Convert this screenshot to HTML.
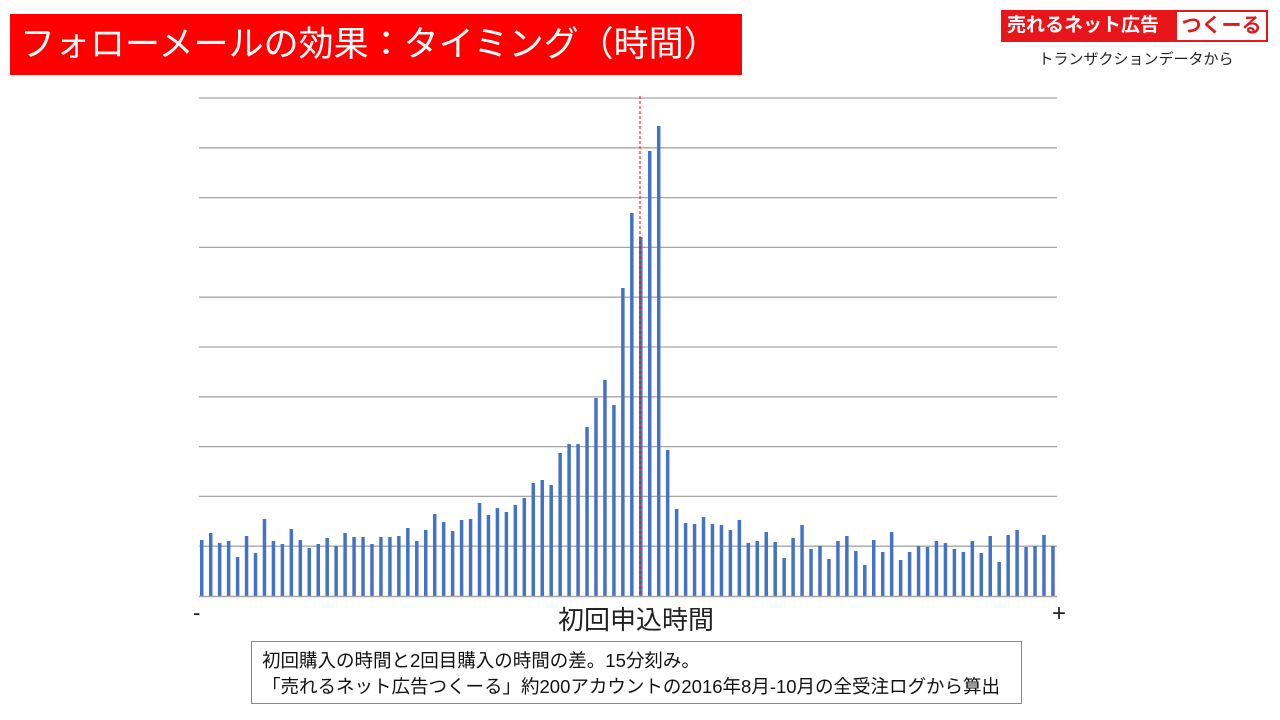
<!DOCTYPE html>
<html><head><meta charset="utf-8"><style>
body{margin:0;width:1280px;height:720px;background:#fff;position:relative;overflow:hidden;font-family:"Liberation Sans","Noto Sans CJK JP",sans-serif}
.t{position:absolute;left:10px;top:14px;width:732px;height:61px;background:#ff0000;color:#fff;font-size:35px;line-height:61px;padding-left:10px;box-sizing:border-box;white-space:nowrap}
.logo{position:absolute;left:1001px;top:10px;width:267px;height:32px;background:#e8151b;box-sizing:border-box}
.logo .a{position:absolute;left:6px;top:0;line-height:32px;color:#fff;font-size:19px;font-weight:bold}
.logo .b{position:absolute;left:176px;top:2px;width:89px;height:28px;background:#fff;color:#e8151b;font-size:20px;font-weight:bold;line-height:28px;text-align:center}
.sub{position:absolute;left:1020px;top:48px;width:232px;text-align:center;font-size:15px;color:#222;white-space:nowrap}
.lab{position:absolute;font-size:22px;color:#222;white-space:nowrap}
.note{position:absolute;left:251px;top:641px;width:771px;height:63px;border:1px solid #888;box-sizing:border-box;font-size:18.5px;line-height:26px;padding:6px 0 0 10px;color:#111;white-space:nowrap}
</style></head><body>
<div class="t">フォローメールの効果：タイミング（時間）</div>
<div class="logo"><span class="a">売れるネット広告</span><span class="b">つくーる</span></div>
<div class="sub">トランザクションデータから</div>
<svg width="1280" height="720" style="position:absolute;left:0;top:0" id="s"></svg>
<div class="lab" style="left:558px;top:600px;font-size:26px">初回申込時間</div>
<div class="lab" style="left:193px;top:600px">-</div>
<div class="lab" style="left:1052px;top:600px;font-size:24px">+</div>
<div class="note">初回購入の時間と2回目購入の時間の差。15分刻み。<br>「売れるネット広告つくーる」約200アカウントの2016年8月-10月の全受注ログから算出</div>
<script>
var tops=[540,533,543,541,557,536,553,519,541,544,529,540,548,544,538,546,533,537,537,544,537,537,536,528,541,530,514,522,531,520,519,503,515,508,512,505,498,483,480,485,453,444,444,427,398,380,405,288,213,237,151,126,450,509,523,524,517,524,525,530,520,543,541,532,542,558,538,525,549,546,559,541,536,551,565,540,552,532,560,552,546,547,541,543,549,552,541,553,536,562,535,530,547,546,535,546];
var h='';
for(var i=0;i<10;i++){var y=98+i*49.8;h+='<line x1="199" x2="1057" y1="'+y+'" y2="'+y+'" stroke="#a6a6a6" stroke-width="1.3"/>';}
for(var i=0;i<tops.length;i++){var x=201.7+i*8.96;h+='<rect x="'+(x-1.7)+'" y="'+tops[i]+'" width="3.5" height="'+(596-tops[i])+'" fill="#4472c4"/>';}
h+='<line x1="199" x2="1057" y1="596.5" y2="596.5" stroke="#a6a6a6" stroke-width="1.5"/>';
h+='<line x1="640" x2="640" y1="96" y2="596" stroke="#ff0000" stroke-width="1" stroke-dasharray="3,2"/>';
document.getElementById('s').innerHTML=h;
</script>
</body></html>
